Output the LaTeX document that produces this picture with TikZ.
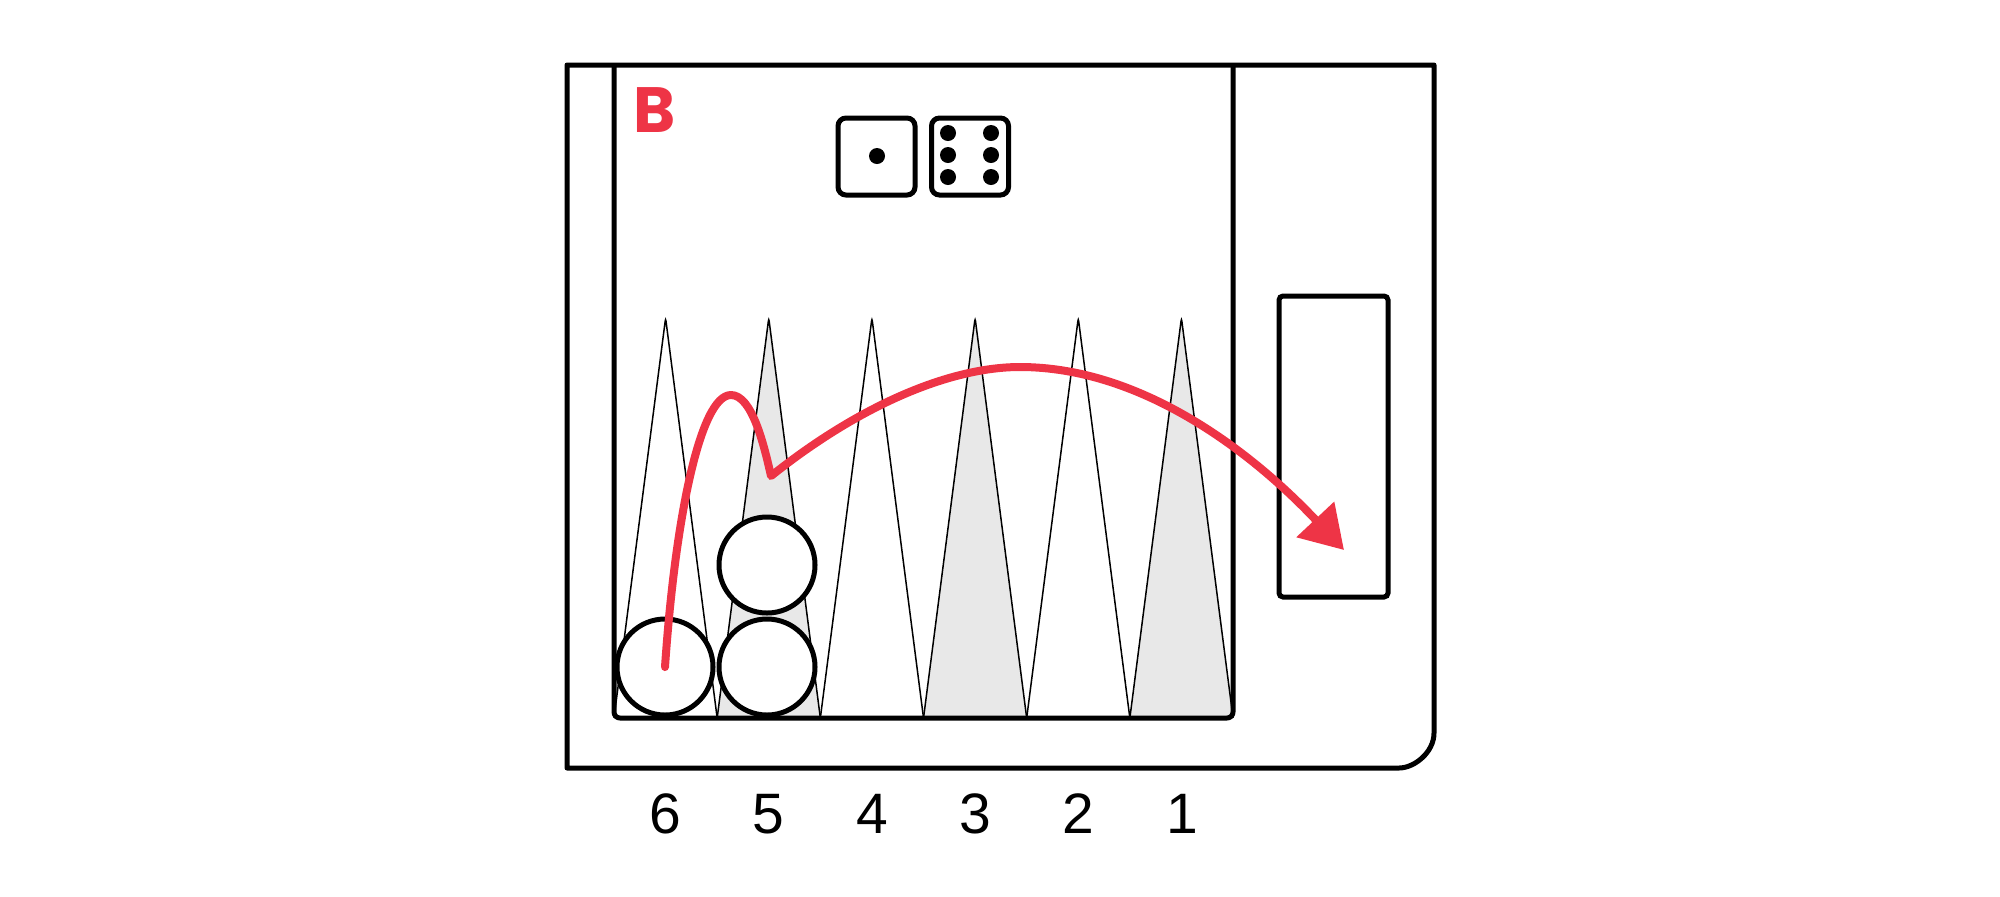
\documentclass[tikz,border=0pt]{standalone}
\usepackage{fontspec}
\setmainfont{Liberation Sans}
\newfontfamily\labelfont{Poppins}
\usetikzlibrary{arrows.meta}
\definecolor{redline}{RGB}{238,52,70}
\definecolor{pointgray}{RGB}{232,232,232}
\begin{document}
\begin{tikzpicture}[x=0.5pt,y=-0.5pt,
  frame/.style={line width=2.5pt, line join=round},
  pointw/.style={fill=white, draw=black, line width=0.75pt, rounded corners=1.5pt},
  pointg/.style={fill=pointgray, draw=black, line width=0.75pt, rounded corners=1.5pt},
  checker/.style={circle, draw=black, fill=white, line width=2.5pt, minimum size=48pt, inner sep=0pt},
  die/.style={draw=black, line width=2.5pt, rounded corners=4pt, minimum width=38.5pt, minimum height=38.5pt, inner sep=0pt},
  pip/.style={circle, fill=black, minimum size=8pt, inner sep=0pt},
  barbox/.style={draw=black, line width=2.5pt, rounded corners=2pt, minimum width=54.5pt, minimum height=150.5pt, inner sep=0pt},
  numlabel/.style={font=\fontsize{28.5pt}{30pt}\selectfont, anchor=base, inner sep=0pt},
  arrowline/.style={draw=redline, line width=4pt, line cap=round, line join=round}
]
\useasboundingbox (0,0) rectangle (2000,896);
% points (triangles)
\foreach \i/\st in {0/pointw,1/pointg,2/pointw,3/pointg,4/pointw,5/pointg}{
  \pgfmathsetmacro{\xa}{614+103.17*\i}
  \pgfmathsetmacro{\xb}{614+103.17*(\i+1)}
  \pgfmathsetmacro{\xm}{(\xa+\xb)/2}
  \path[\st] (\xa,718) -- (\xm,318) -- (\xb,718);
}
% outer board
\draw[frame] (567,65) -- (1434,65) -- (1434,733) .. controls (1434,752.3) and (1414.3,768) .. (1399,768) -- (567,768) -- cycle;
% inner frame
\draw[frame, rounded corners=3pt] (614,65) -- (614,718) -- (1233,718) -- (1233,65);
% bar box
\node[barbox] (bar) at (1333.5,446.5) {};
% dice
\node[die] (d1) at (876.5,156.5) {};
\node[die] (d2) at (970,156.5) {};
\node[pip] (p0) at (877,156) {};
\node[pip] (p1) at (948,133) {};
\node[pip] (p2) at (948,155) {};
\node[pip] (p3) at (948,177) {};
\node[pip] (p4) at (991,133) {};
\node[pip] (p5) at (991,155) {};
\node[pip] (p6) at (991,177) {};
% label B
\node[text=redline, font=\labelfont\bfseries\fontsize{32pt}{34pt}\selectfont, inner sep=0pt, anchor=base] (lb) at (655,132) {B};
% checkers
\node[checker] (c6) at (665,667) {};
\node[checker] (c5a) at (767,667) {};
\node[checker] (c5b) at (767,565) {};
% numbers
\node[numlabel] (n6) at (665,833) {6};
\node[numlabel] (n5) at (768,833) {5};
\node[numlabel] (n4) at (872,833) {4};
\node[numlabel] (n3) at (975,833) {3};
\node[numlabel] (n2) at (1078,833) {2};
\node[numlabel] (n1) at (1182,833) {1};
% arrow
\coordinate (peak) at (731,395);
\coordinate (bend) at (771,476);
\coordinate (top) at (1020,367);
\coordinate (tip) at (1344,550);
\draw[arrowline, -{Triangle[length=21pt,width=25pt]}] (c6.center) .. controls (675,520) and (700,395) .. (peak) .. controls (752,395) and (764,445) .. (bend) .. controls (860,405) and (950,367) .. (top) .. controls (1140,367) and (1250,450) .. (tip);
\end{tikzpicture}
\end{document}
